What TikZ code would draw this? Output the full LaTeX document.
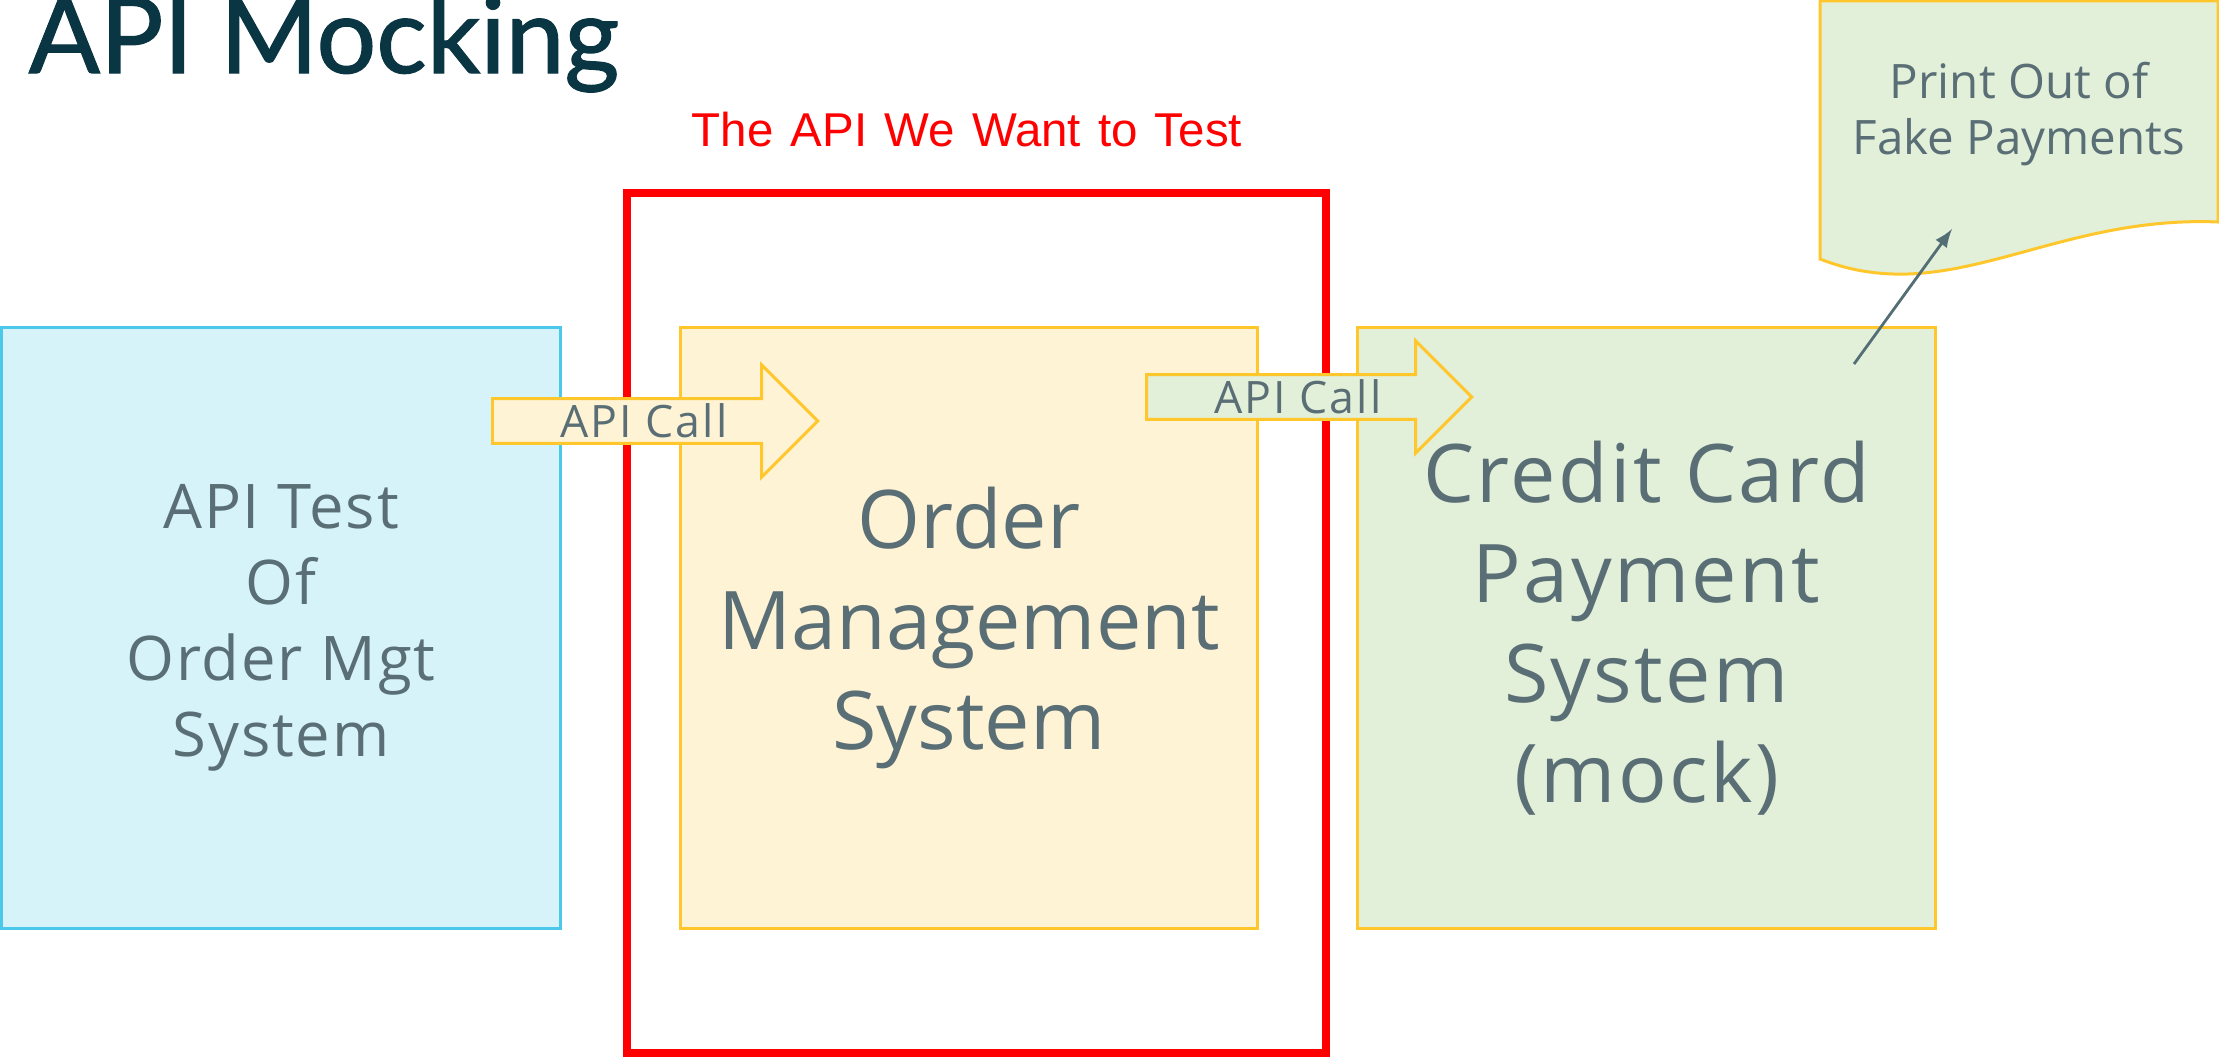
\documentclass[tikz,border=0pt]{standalone}
\usepackage{fontspec}
\setmainfont{Open Sans}
\newfontfamily\titlefont{Lato}[FakeBold=1.2]
\newfontfamily\scopefont{Liberation Sans}[WordSpace=1.3]
\newfontfamily\spacedfont{Open Sans}[LetterSpace=3]
\newfontfamily\widefont{Open Sans}[LetterSpace=4.5]
\usetikzlibrary{shapes.arrows, arrows}
\definecolor{titleblue}{HTML}{0A3542}
\definecolor{scopered}{HTML}{FF0000}
\definecolor{testfill}{HTML}{D6F3F9}
\definecolor{testedge}{HTML}{4CC8EB}
\definecolor{ordfill}{HTML}{FFF3D6}
\definecolor{payfill}{HTML}{E2EFD9}
\definecolor{gold}{HTML}{FFC72C}
\definecolor{boxtext}{HTML}{5A6E75}
\definecolor{pointergray}{HTML}{546E75}
\tikzstyle{scopebox} = [rectangle, draw=scopered, line width=2.3pt, minimum width=6.99cm, minimum height=8.6cm]
\tikzstyle{testbox} = [rectangle, draw=testedge, fill=testfill, line width=0.85pt, minimum width=5.58cm, minimum height=6cm, align=center, text=boxtext, font=\spacedfont\fontsize{17.5}{21.6}\selectfont]
\tikzstyle{sysbox} = [rectangle, draw=gold, line width=0.85pt, minimum width=5.77cm, minimum height=6cm, align=center, text=boxtext, font=\fontsize{23}{28.45}\selectfont]
\tikzstyle{callarrow} = [single arrow, draw=gold, line width=0.85pt, minimum height=3.25cm, minimum width=1.12cm, single arrow head extend=0.28cm, inner sep=0pt, text=boxtext, font=\widefont\fontsize{12.7}{15}\selectfont]
\tikzstyle{doc} = [draw=gold, fill=payfill, line width=0.85pt]
\tikzstyle{doctext} = [align=center, text=boxtext, font=\fontsize{13.5}{15.9}\selectfont]
\tikzstyle{pointer} = [->, >=latex, line width=0.8pt, draw=pointergray, fill=pointergray]

\begin{document}
\begin{tikzpicture}[x=0.01cm, y=-0.01cm]
\useasboundingbox (0,0) rectangle (2219,1057);

\node (title) [anchor=base west, inner sep=0pt, text=titleblue, font=\titlefont\fontsize{30}{36}\selectfont] at (28,73) {API Mocking};
\node (scopelabel) [anchor=base, inner sep=0pt, text=scopered, font=\scopefont\fontsize{13.5}{16}\selectfont] at (967,146) {The API We Want to Test};
\node (scope) [scopebox] at (976.5,623) {};

\node (tester) [testbox] at (281,628) {API Test\\Of\\Order Mgt\\System};
\node (orders) [sysbox, fill=ordfill, minimum width=5.76cm] at (969,628) {Order\\Management\\System};
\node (payment) [sysbox, fill=payfill, font=\spacedfont\fontsize{23}{28.45}\selectfont] at (1646.5,628) {Credit Card\\Payment\\System\\(mock)};

\node (call1) [callarrow, fill=ordfill, anchor=tail] at (491,421) {API Call};
\node (call2) [callarrow, fill=payfill, anchor=tail] at (1145,397) {API Call};

\path [doc] (1820,1) -- (2218,1) -- (2218,222) .. controls (2050,215) and (1950,310) .. (1820,259) -- cycle;
\node (printout) [doctext] at (2019,114) {Print Out of\\Fake Payments};

\coordinate (ptail) at (1854,364);
\coordinate (ptip) at (1952,229);
\draw [pointer] (ptail) -- (ptip);

\end{tikzpicture}
\end{document}
